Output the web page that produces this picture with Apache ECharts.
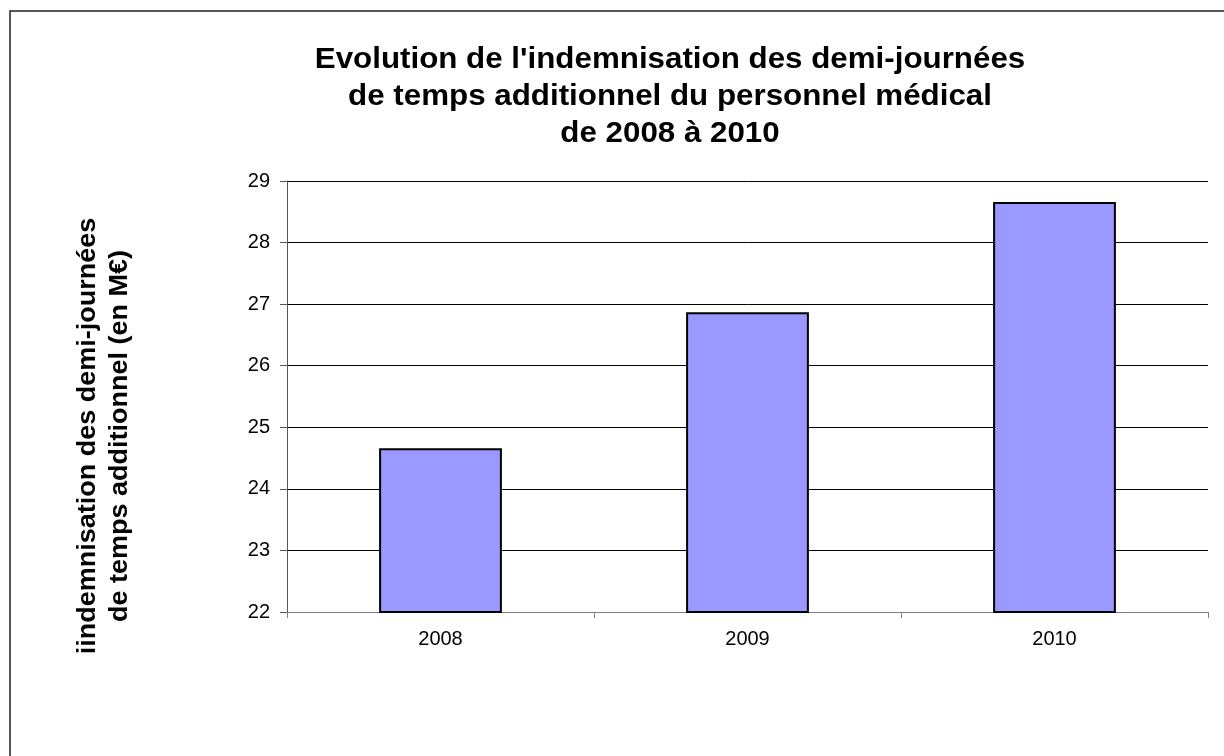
<!DOCTYPE html>
<html>
<head>
<meta charset="utf-8">
<script src="https://cdn.jsdelivr.net/npm/echarts@6/dist/echarts.min.js"></script>
<style>
  html, body { margin: 0; padding: 0; background: #fff; }
  #chart { width: 1224px; height: 756px; }
</style>
</head>
<body>
<div id="chart"></div>
<script>
// data
const years = ["2008", "2009", "2010"];
const indemnisation = [24.66, 26.87, 28.66];
const yMin = 22;
const yMax = 29;

const titleLines = [
  "Evolution de l'indemnisation des demi-journées",
  "de temps additionnel du personnel médical",
  "de 2008 à 2010"
];
const yNameLines = [
  "iindemnisation des demi-journées",
  "de temps additionnel (en M€)"
];

const font = "Liberation Sans, Arial, sans-serif";
// the original text is a bit wider than Liberation Sans
const stretch = 1.08;

let myChart = echarts.init(document.getElementById("chart"));

myChart.setOption({
  animation: false,
  textStyle: { fontFamily: font },
  graphic: [
    {
      type: "rect",
      shape: { x: 10, y: 11, width: 1400, height: 900 },
      style: { fill: "none", stroke: "#222", lineWidth: 1.5 },
      silent: true
    },
    {
      type: "text",
      x: 670,
      y: 97,
      scaleX: stretch,
      style: {
        text: titleLines.join("\n"),
        fontSize: 29,
        fontWeight: "bold",
        lineHeight: 37,
        fill: "#000",
        align: "center",
        verticalAlign: "middle",
        fontFamily: font
      }
    },
    {
      type: "text",
      x: 104,
      y: 436,
      rotation: Math.PI / 2,
      scaleX: stretch,
      style: {
        text: yNameLines.join("\n"),
        fontSize: 25,
        fontWeight: "bold",
        lineHeight: 32,
        fill: "#000",
        align: "center",
        verticalAlign: "middle",
        fontFamily: font
      }
    }
  ],
  grid: {
    left: 287,
    right: 16,
    top: 181,
    bottom: 144
  },
  xAxis: {
    type: "category",
    data: years,
    axisLine: { lineStyle: { color: "#808080", width: 1 } },
    axisTick: { show: true, length: 6, alignWithLabel: false, lineStyle: { color: "#808080" } },
    axisLabel: { color: "#000", fontSize: 20, margin: 17 }
  },
  yAxis: {
    type: "value",
    min: yMin,
    max: yMax,
    interval: 1,
    axisLine: { show: true, lineStyle: { color: "#555", width: 1 } },
    axisTick: { show: true, length: 7, lineStyle: { color: "#555" } },
    axisLabel: { color: "#000", fontSize: 20, margin: 17 },
    splitLine: { lineStyle: { color: "#000", width: 1 } }
  },
  series: [
    {
      type: "bar",
      data: indemnisation,
      barCategoryGap: "60%",
      itemStyle: {
        color: "#9999ff",
        borderColor: "#000",
        borderWidth: 2
      }
    }
  ]
});
</script>
</body>
</html>
